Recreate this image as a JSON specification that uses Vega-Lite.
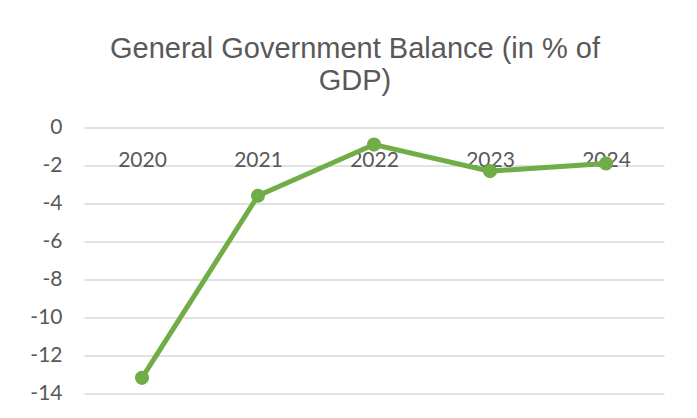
{
  "$schema": "https://vega.github.io/schema/vega-lite/v6.json",
  "autosize": "none",
  "width": 580,
  "height": 265.5,
  "padding": {"left": 84, "top": 127.5, "right": 33, "bottom": 25},
  "background": "white",
  "title": {
    "text": ["General Government Balance (in % of", "GDP)"],
    "font": "Liberation Sans",
    "fontSize": 29,
    "fontWeight": "normal",
    "color": "#595959",
    "anchor": "middle",
    "dx": -19,
    "offset": 21,
    "lineHeight": 32
  },
  "data": {
    "values": [
      {"year": "2020", "balance": -13.2},
      {"year": "2021", "balance": -3.6},
      {"year": "2022", "balance": -0.9},
      {"year": "2023", "balance": -2.3},
      {"year": "2024", "balance": -1.9}
    ]
  },
  "mark": {
    "type": "line",
    "color": "#70ad47",
    "strokeWidth": 5,
    "point": {"filled": true, "size": 200, "color": "#70ad47", "opacity": 1}
  },
  "encoding": {
    "x": {
      "field": "year",
      "type": "ordinal",
      "title": null,
      "scale": {"padding": 0.5},
      "axis": {
        "orient": "bottom",
        "offset": -265.5,
        "domain": false,
        "ticks": false,
        "tickSize": 0,
        "grid": false,
        "labelAngle": 0,
        "labelBaseline": "alphabetic",
        "labelPadding": 39,
        "labelFont": "Lato",
        "labelFontSize": 21,
        "labelColor": "#595959"
      }
    },
    "y": {
      "field": "balance",
      "type": "quantitative",
      "title": null,
      "scale": {"domain": [-14, 0], "nice": false, "zero": false},
      "axis": {
        "values": [-14, -12, -10, -8, -6, -4, -2, 0],
        "labelExpr": "toString(datum.value)",
        "domain": false,
        "ticks": false,
        "tickSize": 0,
        "grid": true,
        "gridColor": "#d9d9d9",
        "gridWidth": 1.5,
        "labelPadding": 22,
        "labelFont": "Lato",
        "labelFontSize": 21,
        "labelColor": "#595959"
      }
    }
  },
  "config": {"view": {"stroke": null}}
}
